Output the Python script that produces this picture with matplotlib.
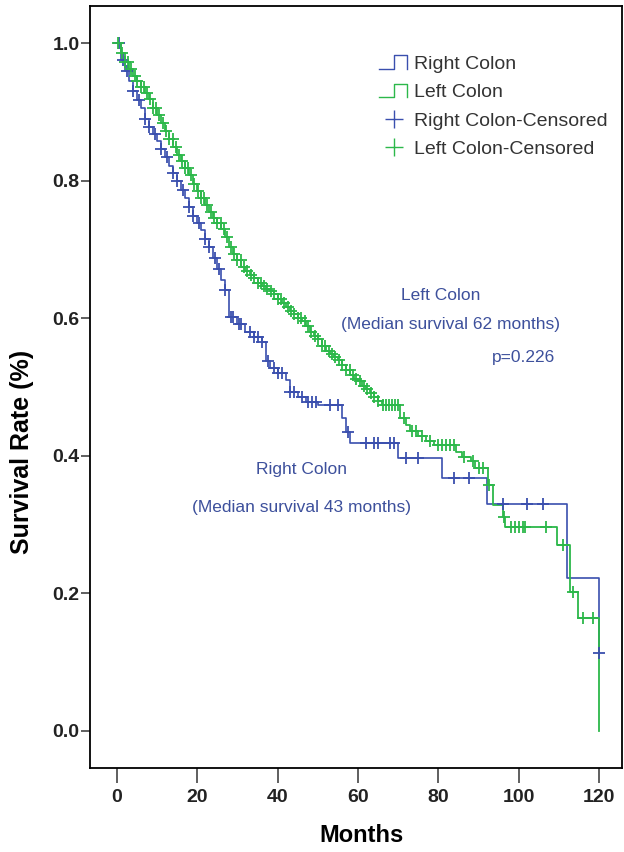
import numpy as np
import matplotlib
matplotlib.use("Agg")
import matplotlib.pyplot as plt
from matplotlib.lines import Line2D
from matplotlib.legend_handler import HandlerBase

plt.rcParams['font.family'] = ['Liberation Sans', 'DejaVu Sans']

# Right colon: event times (months) and survival after each step
right_t = [0, 1, 2, 3, 4, 5, 6, 7, 8, 9, 10, 11, 12, 13, 14, 15, 16, 17, 18, 19,
           20, 21, 22, 23, 24, 25, 26, 27, 28, 30, 32, 34, 36, 37, 38, 40, 42, 43,
           45, 47, 50, 56, 57, 58, 70, 81, 92, 112, 120]
right_s = [1.0, 0.975, 0.96, 0.945, 0.93, 0.917, 0.905, 0.89, 0.878, 0.868, 0.858,
           0.846, 0.835, 0.822, 0.811, 0.80, 0.787, 0.775, 0.762, 0.748, 0.738,
           0.728, 0.715, 0.703, 0.688, 0.672, 0.656, 0.641, 0.602, 0.592, 0.58,
           0.572, 0.565, 0.538, 0.528, 0.52, 0.51, 0.493, 0.486, 0.478, 0.474,
           0.455, 0.435, 0.419, 0.397, 0.368, 0.33, 0.222, 0.113]
right_cens = [0.5, 1.5, 2.5, 4, 5.5, 7, 8, 9.5, 11, 12.5, 14, 15, 16.5, 18, 19, 20.5,
              22, 23, 24.5, 25.5, 27, 28.5, 29, 30.5, 31, 33, 34, 35, 36, 37.5, 39,
              40, 41, 43, 44, 46, 47.5, 48.5, 49.5, 53, 55, 57.5, 62, 64, 65, 68, 69,
              72, 75, 84, 87.5, 96, 102, 106, 120]

# Left colon
left_t = [0, 1, 2, 3, 4, 5, 6, 7, 8, 9, 10, 11, 12, 13, 14, 15, 16, 17, 18, 19, 20,
          21, 22, 23, 24, 25, 26, 27, 28, 29, 30, 31, 32, 33, 34, 35, 36, 37, 38, 39,
          40, 41, 42, 43, 44, 45, 46, 47, 48, 49, 50, 51, 52, 53, 54, 55, 56, 57, 58,
          59, 60, 61, 62, 63, 64, 65, 66, 70.5, 72, 73, 75, 77, 79, 84.5, 86, 88, 89,
          92.4, 93.6, 96, 96.6, 109.5, 112.8, 114.8, 120]
left_s = [1.0, 0.985, 0.972, 0.962, 0.952, 0.945, 0.936, 0.927, 0.918, 0.906, 0.896,
          0.884, 0.872, 0.86, 0.849, 0.838, 0.828, 0.818, 0.808, 0.795, 0.785, 0.775,
          0.765, 0.755, 0.745, 0.738, 0.73, 0.718, 0.703, 0.694, 0.684, 0.674, 0.668,
          0.663, 0.658, 0.651, 0.647, 0.643, 0.639, 0.635, 0.628, 0.622, 0.616, 0.611,
          0.606, 0.601, 0.596, 0.588, 0.58, 0.574, 0.57, 0.56, 0.553, 0.548, 0.543,
          0.539, 0.532, 0.524, 0.518, 0.512, 0.508, 0.502, 0.497, 0.491, 0.486, 0.479,
          0.474, 0.455, 0.445, 0.436, 0.429, 0.422, 0.415, 0.405, 0.398, 0.392, 0.382,
          0.357, 0.328, 0.311, 0.296, 0.27, 0.202, 0.164, 0.0]
left_cens = [0.3, 1.2, 2, 2.8, 3.5, 4.4, 5.1, 6, 6.7, 7.5, 8.3, 9.1, 9.8, 10.6, 11.5,
             12.2, 13, 13.9, 14.6, 15.4, 16.1, 17, 17.8, 18.5, 19.3, 20.2, 21, 21.7,
             22.5, 23.4, 24.2, 25, 25.8, 26.6, 27.5, 28.3, 29.1, 30, 30.8, 31.6, 32.4,
             33.3, 34.1, 35, 35.8, 36.6, 37.4, 38.3, 39.1, 40, 40.8, 41.6, 42.5, 43.3,
             44.1, 45, 45.8, 46.7, 47.5, 48.4, 49.2, 50.1, 51, 51.8, 52.7, 53.5, 54.4,
             55.2, 56.1, 57, 57.9, 58.7, 59.6, 60.5, 61.4, 62.3, 63.2, 64.1, 65, 66.2,
             67, 67.8, 68.5, 69.2, 70, 71.5, 73.5, 74.5, 76, 78, 80, 81, 82, 83, 84,
             86.5, 88.5, 90, 91, 92.5, 96.3, 98, 99, 100, 101, 101.6, 106.8, 111,
             113.5, 116, 118.5]

x_ticks = [0, 20, 40, 60, 80, 100, 120]
y_ticks = [0.0, 0.2, 0.4, 0.6, 0.8, 1.0]

BLUE = '#3a4fae'
GREEN = '#2cb84a'
TXT_BLUE = '#3d509c'


def surv_at(times, surv, t):
    idx = np.searchsorted(times, t, side='right') - 1
    return np.asarray(surv)[idx]


class StepHandler(HandlerBase):
    # legend key drawn as a small step, like SPSS does
    def create_artists(self, legend, orig_handle, xdescent, ydescent,
                       width, height, fontsize, trans):
        xs = [0, width * 0.5, width * 0.5, width * 0.9, width * 0.9]
        ys = [0, 0, height, height, 0]
        ln = Line2D(xs, ys, color=orig_handle.get_color(), lw=1.0)
        ln.set_transform(trans)
        return [ln]


fig = plt.figure(figsize=(6.24, 8.52), dpi=100)
ax = fig.add_axes([0.1442, 0.0986, 0.8526, 0.8944])

rline, = ax.step(right_t, right_s, where='post', color=BLUE, lw=1.2)
lline, = ax.step(left_t, left_s, where='post', color=GREEN, lw=1.3)
ax.plot(right_cens, surv_at(right_t, right_s, right_cens), ls='none',
        marker='+', color=BLUE, ms=8, mew=1.3)
ax.plot(left_cens, surv_at(left_t, left_s, left_cens), ls='none',
        marker='+', color=GREEN, ms=8, mew=1.3)

ax.set_xlim(-6.7, 125.7)
ax.set_ylim(-0.054, 1.054)
ax.set_xticks(x_ticks)
ax.set_yticks(y_ticks)
ax.set_yticklabels([f'{v:.1f}' for v in y_ticks])
ax.tick_params(axis='x', length=11, width=1.2, pad=4, labelsize=14, color='#444')
ax.tick_params(axis='y', length=6.5, width=1.2, pad=1, labelsize=14, color='#444')
for lab in ax.get_xticklabels() + ax.get_yticklabels():
    lab.set_fontweight('bold')
    lab.set_color('#222')
for sp in ax.spines.values():
    sp.set_linewidth(1.3)

ax.set_xlabel('Months', fontsize=17, fontweight='bold')
ax.set_ylabel('Survival Rate (%)', fontsize=18, fontweight='bold')
ax.xaxis.set_label_coords(0.511, -0.088)
ax.yaxis.set_label_coords(-0.128, 0.415)
ax.xaxis.label.set_va('center')
ax.yaxis.label.set_va('center')

cr = Line2D([], [], ls='none', marker='+', color=BLUE, ms=13, mew=1.0)
cl = Line2D([], [], ls='none', marker='+', color=GREEN, ms=13, mew=1.0)
leg = ax.legend([rline, lline, cr, cl],
                ['Right Colon', 'Left Colon', 'Right Colon-Censored', 'Left Colon-Censored'],
                handler_map={rline: StepHandler(), lline: StepHandler()},
                loc='upper left', bbox_to_anchor=(0.51, 0.958), frameon=False,
                fontsize=14, handlelength=1.6, handletextpad=0.2, labelspacing=0.55)
for t in leg.get_texts():
    t.set_color('#333')

ax.text(80.5, 0.627, 'Left Colon', color=TXT_BLUE, fontsize=12.5, ha='center')
ax.text(83, 0.584, '(Median survival 62 months)', color=TXT_BLUE, fontsize=12.5, ha='center')
ax.text(101.3, 0.536, 'p=0.226', color=TXT_BLUE, fontsize=12.5, ha='center')
ax.text(46, 0.373, 'Right Colon', color=TXT_BLUE, fontsize=12.5, ha='center')
ax.text(46, 0.318, '(Median survival 43 months)', color=TXT_BLUE, fontsize=12.5, ha='center')

fig.savefig('out.png', dpi=100)
